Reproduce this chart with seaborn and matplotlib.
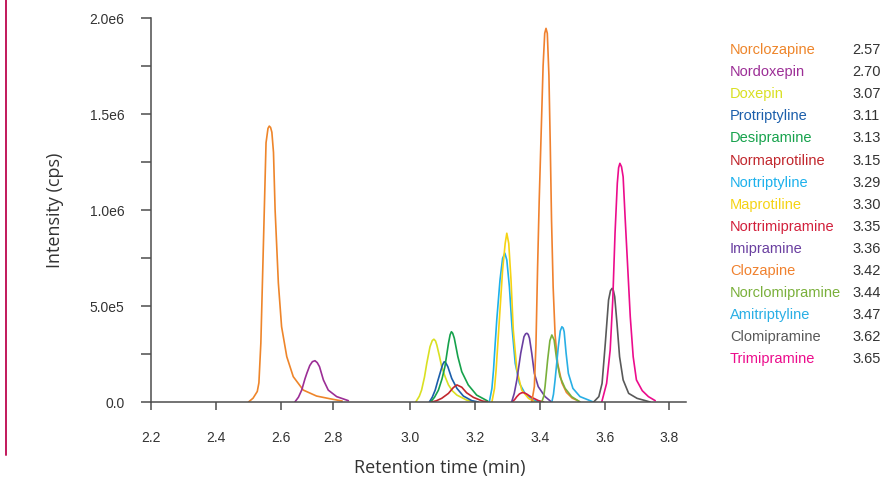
import pandas as pd
import matplotlib
matplotlib.use('Agg')
import matplotlib.pyplot as plt
from matplotlib.lines import Line2D
from matplotlib.ticker import MultipleLocator
import seaborn as sns

# compounds in elution order, with retention times (min) and colours
compounds = ['Norclozapine', 'Nordoxepin', 'Doxepin', 'Protriptyline', 'Desipramine',
             'Normaprotiline', 'Nortriptyline', 'Maprotiline', 'Nortrimipramine', 'Imipramine',
             'Clozapine', 'Norclomipramine', 'Amitriptyline', 'Clomipramine', 'Trimipramine']
retention = ['2.57', '2.70', '3.07', '3.11', '3.13', '3.15', '3.29', '3.30', '3.35', '3.36',
             '3.42', '3.44', '3.47', '3.62', '3.65']
colors = ['#EE852A', '#9C2E96', '#D9E022', '#1B5EAB', '#16A24C', '#C1272D', '#1DB1EC',
          '#F5D313', '#D2203C', '#6A3FA0', '#F0812E', '#7AB03B', '#29AFE5', '#595959', '#EC0C8C']

# peak traces: time (min) and intensity (kcps)
norclozapine_t = [2.501, 2.515, 2.528, 2.533, 2.539, 2.547, 2.555, 2.561, 2.565, 2.569, 2.573,
                  2.578, 2.583, 2.593, 2.603, 2.619, 2.639, 2.670, 2.711, 2.752, 2.790]
norclozapine_i = [0, 20, 55, 100, 307, 828, 1350, 1425, 1437, 1430, 1405,
                  1300, 1000, 620, 392, 236, 132, 62, 31, 17, 5]
nordoxepin_t = [2.644, 2.655, 2.665, 2.675, 2.681, 2.690, 2.698, 2.706, 2.713, 2.720, 2.732, 2.747, 2.773, 2.809]
nordoxepin_i = [0, 25, 62, 120, 150, 190, 210, 215, 205, 184, 115, 62, 28, 7]
doxepin_t = [3.017, 3.028, 3.035, 3.044, 3.051, 3.061, 3.068, 3.073, 3.078, 3.082, 3.090,
             3.097, 3.108, 3.118, 3.130, 3.144, 3.174, 3.200]
doxepin_i = [0, 30, 62, 130, 201, 288, 320, 327, 318, 297, 240, 184, 130, 89, 58, 36, 10, 0]
protriptyline_t = [3.059, 3.068, 3.077, 3.085, 3.092, 3.100, 3.105, 3.110, 3.116, 3.128, 3.144, 3.164, 3.190, 3.210]
protriptyline_i = [0, 25, 62, 110, 150, 195, 210, 203, 184, 123, 71, 31, 7, 0]
desipramine_t = [3.063, 3.075, 3.087, 3.098, 3.107, 3.118, 3.123, 3.127, 3.131, 3.136, 3.147,
                 3.159, 3.179, 3.205, 3.239]
desipramine_i = [0, 25, 62, 120, 184, 306, 350, 366, 358, 332, 236, 158, 89, 36, 5]
normaprotiline_t = [3.066, 3.080, 3.097, 3.110, 3.118, 3.133, 3.144, 3.159, 3.174, 3.195, 3.223, 3.240]
normaprotiline_i = [0, 6, 19, 35, 45, 75, 89, 77, 48, 24, 5, 0]
nortriptyline_t = [3.244, 3.252, 3.257, 3.262, 3.267, 3.277, 3.285, 3.292, 3.298, 3.306, 3.314,
                   3.324, 3.337, 3.354, 3.380, 3.400]
nortriptyline_i = [0, 70, 167, 300, 427, 635, 748, 775, 740, 600, 392, 201, 97, 45, 10, 0]
maprotiline_t = [3.252, 3.260, 3.265, 3.275, 3.285, 3.293, 3.298, 3.304, 3.311, 3.318, 3.329, 3.344, 3.365, 3.385]
maprotiline_i = [0, 70, 167, 427, 687, 826, 879, 826, 635, 375, 167, 62, 19, 0]
nortrimipramine_t = [3.313, 3.322, 3.329, 3.337, 3.344, 3.350, 3.359, 3.375, 3.396, 3.412]
nortrimipramine_i = [0, 12, 28, 42, 48, 49, 42, 24, 7, 0]
imipramine_t = [3.313, 3.321, 3.329, 3.341, 3.351, 3.356, 3.360, 3.364, 3.368, 3.375, 3.383, 3.395, 3.416, 3.436]
imipramine_i = [0, 45, 115, 254, 340, 355, 358, 352, 332, 254, 149, 80, 28, 0]
clozapine_t = [3.375, 3.383, 3.388, 3.393, 3.398, 3.404, 3.410, 3.415, 3.419, 3.423, 3.428,
               3.432, 3.436, 3.441, 3.447, 3.455, 3.468, 3.482, 3.500, 3.520]
clozapine_i = [0, 80, 300, 700, 1050, 1400, 1750, 1920, 1946, 1920, 1700,
               1350, 950, 600, 350, 200, 100, 50, 20, 5]
norclomipramine_t = [3.406, 3.412, 3.416, 3.424, 3.431, 3.437, 3.444, 3.452, 3.462, 3.478, 3.498, 3.524]
norclomipramine_i = [0, 30, 80, 219, 320, 349, 323, 219, 132, 71, 28, 0]
amitriptyline_t = [3.437, 3.442, 3.447, 3.457, 3.463, 3.468, 3.472, 3.475, 3.481, 3.488, 3.502, 3.524, 3.555, 3.565]
amitriptyline_i = [0, 40, 115, 288, 370, 392, 385, 366, 254, 149, 71, 28, 7, 0]
clomipramine_t = [3.566, 3.582, 3.592, 3.602, 3.612, 3.618, 3.623, 3.627, 3.631, 3.638, 3.646,
                  3.657, 3.674, 3.700, 3.726, 3.740]
clomipramine_i = [0, 28, 97, 306, 531, 580, 592, 580, 548, 410, 236, 115, 45, 19, 7, 0]
trimipramine_t = [3.591, 3.606, 3.617, 3.625, 3.632, 3.639, 3.643, 3.647, 3.652, 3.657, 3.663,
                  3.671, 3.679, 3.688, 3.698, 3.716, 3.735, 3.756]
trimipramine_i = [0, 97, 271, 531, 879, 1139, 1220, 1243, 1225, 1173, 965, 705, 444, 236, 115, 59, 28, 7]

# axis ticks as printed on the original (the 2.8 mark sits a bit left there)
xtick_pos = [2.2, 2.4, 2.6, 2.762, 3.0, 3.2, 3.4, 3.6, 3.8]
xtick_labels = ['2.2', '2.4', '2.6', '2.8', '3.0', '3.2', '3.4', '3.6', '3.8']
ytick_pos = [0, 5e5, 1e6, 1.5e6, 2e6]
ytick_labels = ['0.0', '5.0e5', '1.0e6', '1.5e6', '2.0e6']

traces = [(norclozapine_t, norclozapine_i), (nordoxepin_t, nordoxepin_i), (doxepin_t, doxepin_i),
          (protriptyline_t, protriptyline_i), (desipramine_t, desipramine_i),
          (normaprotiline_t, normaprotiline_i), (nortriptyline_t, nortriptyline_i),
          (maprotiline_t, maprotiline_i), (nortrimipramine_t, nortrimipramine_i),
          (imipramine_t, imipramine_i), (clozapine_t, clozapine_i),
          (norclomipramine_t, norclomipramine_i), (amitriptyline_t, amitriptyline_i),
          (clomipramine_t, clomipramine_i), (trimipramine_t, trimipramine_i)]

rows = []
for name, (t, inten) in zip(compounds, traces):
    for a, b in zip(t, inten):
        rows.append({'compound': name, 'time': a, 'intensity': b * 1000})
df = pd.DataFrame(rows)

sns.set_style('ticks')
plt.rcParams['font.family'] = ['Liberation Sans', 'DejaVu Sans']

fig = plt.figure(figsize=(8.9, 4.87), dpi=100)
ax = fig.add_axes([151 / 890, 1 - 402 / 487, 535 / 890, 384 / 487])

sns.lineplot(data=df, x='time', y='intensity', hue='compound', hue_order=compounds,
             palette=dict(zip(compounds, colors)), sort=False, estimator=None,
             legend=False, linewidth=1.2, ax=ax)

ax.set_xlim(2.2, 3.851)
ax.set_ylim(0, 2e6)
sns.despine(ax=ax)
for s in ['left', 'bottom']:
    ax.spines[s].set_color('#4d4d4d')
    ax.spines[s].set_linewidth(1.1)

ax.set_xticks(xtick_pos)
ax.set_xticklabels(xtick_labels)
ax.set_yticks(ytick_pos)
ax.set_yticklabels(ytick_labels)
ax.yaxis.set_minor_locator(MultipleLocator(2.5e5))
ax.tick_params(axis='x', which='both', length=6, width=1.1, color='#4d4d4d',
               labelsize=10, labelcolor='#333333', pad=15)
ax.tick_params(axis='y', which='both', length=7, width=1.1, color='#4d4d4d',
               labelsize=10, labelcolor='#333333', pad=12)

ax.set_xlabel('Retention time (min)', family='Open Sans', fontsize=13, color='#333333')
ax.set_ylabel('Intensity (cps)', family='Open Sans', fontsize=13, color='#333333')
ax.xaxis.set_label_coords(0.54, -0.148)
ax.yaxis.set_label_coords(-0.162, 0.5)

# compound list on the right
for k, (name, rt, c) in enumerate(zip(compounds, retention, colors)):
    y = 1 - (50 + k * 22.1) / 487
    fig.text(730 / 890, y, name, color=c, fontsize=10.5, va='center', ha='left')
    fig.text(852 / 890, y, rt, color='#333333', fontsize=10.5, va='center', ha='left')

# thin vertical rule at the left edge
fig.add_artist(Line2D([6 / 890, 6 / 890], [1, 1 - 455 / 487], color='#C2185B', linewidth=1.4))

fig.savefig('out.png', dpi=100)
